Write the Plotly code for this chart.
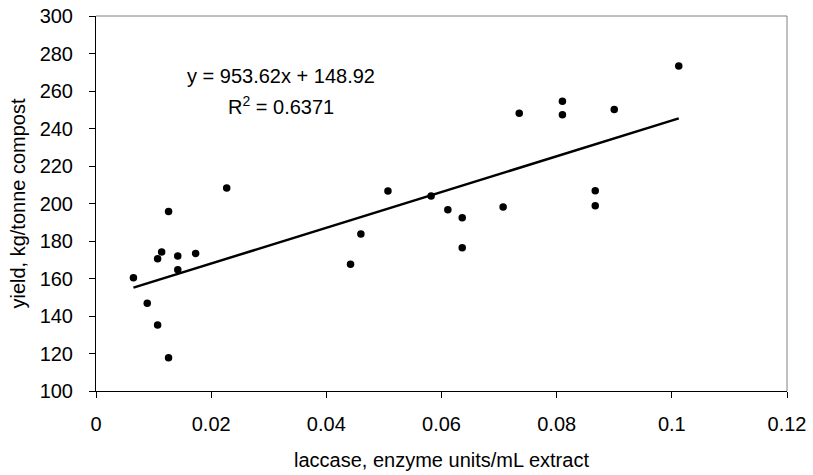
import plotly.graph_objects as go

# data
laccase = [0.0065, 0.0089, 0.0107, 0.0126, 0.0107, 0.0114, 0.0126, 0.0142, 0.0142,
           0.0173, 0.0227, 0.0442, 0.0460, 0.0507, 0.0582, 0.0611, 0.0636, 0.0636,
           0.0707, 0.0735, 0.0810, 0.0810, 0.0867, 0.0867, 0.0900, 0.1012]
yield_kg = [160.4, 146.8, 135.2, 117.8, 170.6, 174.1, 195.8, 172.0, 164.7,
            173.4, 208.3, 167.6, 183.7, 206.7, 204.0, 196.7, 192.4, 176.4,
            198.1, 248.1, 254.5, 247.4, 206.8, 198.8, 250.2, 273.3]
slope = 953.62
intercept = 148.92
r2 = 0.6371
x_ticks = [0, 0.02, 0.04, 0.06, 0.08, 0.1, 0.12]
y_ticks = [100, 120, 140, 160, 180, 200, 220, 240, 260, 280, 300]

FONT = "Liberation Sans, Arial, sans-serif"
FS = 20

fig = go.Figure()
fig.add_trace(go.Scatter(x=laccase, y=yield_kg, mode="markers",
                         marker=dict(color="black", size=7.5),
                         showlegend=False, hoverinfo="x+y"))
xmin, xmax = min(laccase), max(laccase)
fig.add_trace(go.Scatter(x=[xmin, xmax],
                         y=[slope * xmin + intercept, slope * xmax + intercept],
                         mode="lines", line=dict(color="black", width=2.5),
                         showlegend=False, hoverinfo="skip"))

fig.update_layout(
    width=813, height=475,
    margin=dict(l=96, r=26, t=16, b=84),
    paper_bgcolor="white", plot_bgcolor="white",
    font=dict(family=FONT, size=FS, color="black"),
    xaxis=dict(range=[0, 0.12], tickvals=x_ticks,
               ticktext=[f"{v:g}" for v in x_ticks],
               showgrid=False, zeroline=False, showline=True, automargin=False,
               linecolor="black", linewidth=1, ticks="outside", ticklen=6,
               tickcolor="black", tickfont=dict(size=FS), ticklabelstandoff=9,
               title=dict(text="laccase, enzyme units/mL extract",
                          font=dict(size=FS), standoff=18)),
    yaxis=dict(range=[100, 300], tickvals=y_ticks,
               showgrid=False, zeroline=False, showline=True, automargin=False,
               linecolor="black", linewidth=1, ticks="outside", ticklen=6,
               tickcolor="black", tickfont=dict(size=FS), ticklabelstandoff=12,
               title=dict(text="yield, kg/tonne compost",
                          font=dict(size=FS), standoff=8)),
    shapes=[
        dict(type="line", xref="paper", yref="paper", x0=0, x1=1, y0=1, y1=1,
             line=dict(color="#808080", width=1)),
        dict(type="line", xref="paper", yref="paper", x0=1, x1=1, y0=0, y1=1,
             line=dict(color="#808080", width=1)),
    ],
    annotations=[
        dict(x=0.0322, y=268.2, xref="x", yref="y", showarrow=False,
             text=f"y = {slope}x + {intercept}", font=dict(size=FS),
             xanchor="center", yanchor="middle"),
        dict(x=0.0322, y=252.5, xref="x", yref="y", showarrow=False,
             text=f"R<sup>2</sup> = {r2}", font=dict(size=FS),
             xanchor="center", yanchor="middle"),
    ],
)

fig.write_html("out.html")
